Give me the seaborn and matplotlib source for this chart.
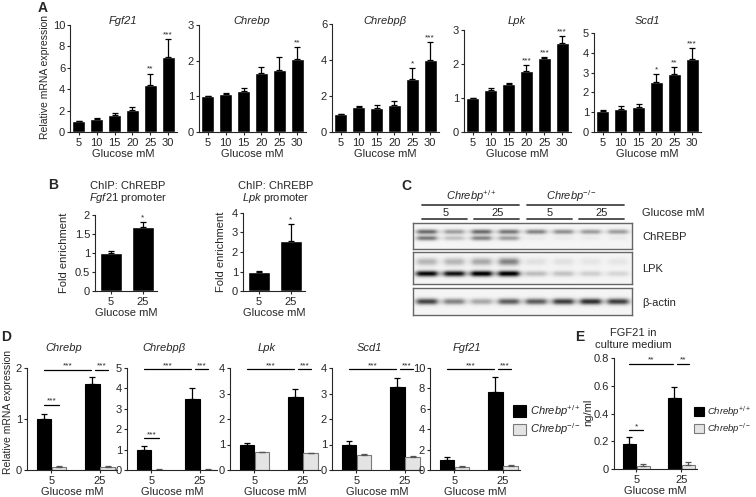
import numpy as np
import pandas as pd
import matplotlib
matplotlib.use('Agg')
import matplotlib.pyplot as plt
from matplotlib.patches import Patch
import seaborn as sns

sns.set_style("ticks")
plt.rcParams['font.family'] = ['Liberation Sans', 'DejaVu Sans']
plt.rcParams['mathtext.fontset'] = 'custom'
plt.rcParams['mathtext.rm'] = 'Liberation Sans'
plt.rcParams['mathtext.it'] = 'Liberation Sans:italic'
plt.rcParams['font.size'] = 8
plt.rcParams['axes.linewidth'] = 0.8
plt.rcParams['xtick.major.size'] = 2.5
plt.rcParams['ytick.major.size'] = 2.5
plt.rcParams['xtick.major.width'] = 0.8
plt.rcParams['ytick.major.width'] = 0.8
plt.rcParams['xtick.major.pad'] = 1.5
plt.rcParams['ytick.major.pad'] = 1.0

W, H = 756, 497

# ---- Panel A: glucose dose response (mean, SEM, significance) ----
glucose_a = ['5', '10', '15', '20', '25', '30']
fgf21_a = [1.0, 1.24, 1.55, 2.1, 4.43, 6.97]
fgf21_a_err = [0.0, 0.1, 0.2, 0.25, 1.0, 1.7]
fgf21_a_sig = ['', '', '', '', '**', '***']
chrebp_a = [1.0, 1.06, 1.15, 1.65, 1.73, 2.05]
chrebp_a_err = [0.0, 0.02, 0.07, 0.17, 0.37, 0.33]
chrebp_a_sig = ['', '', '', '', '', '**']
chrebpb_a = [1.0, 1.37, 1.35, 1.5, 2.95, 4.0]
chrebpb_a_err = [0.0, 0.1, 0.15, 0.23, 0.6, 1.0]
chrebpb_a_sig = ['', '', '', '', '*', '***']
lpk_a = [1.0, 1.24, 1.4, 1.78, 2.17, 2.62]
lpk_a_err = [0.0, 0.04, 0.04, 0.18, 0.03, 0.2]
lpk_a_sig = ['', '', '', '***', '***', '***']
scd1_a = [1.07, 1.15, 1.27, 2.55, 2.92, 3.7]
scd1_a_err = [0.04, 0.18, 0.16, 0.37, 0.36, 0.53]
scd1_a_sig = ['', '', '', '*', '**', '***']

# ---- Panel B: ChIP fold enrichment ----
glucose_b = ['5', '25']
chip_fgf21 = [1.0, 1.68]
chip_fgf21_err = [0.05, 0.13]
chip_lpk = [1.0, 2.55]
chip_lpk_err = [0.03, 0.9]

# ---- Panel C: western blot band intensities (8 lanes) ----
chrebp_upper = [0.55, 0.35, 0.55, 0.5, 0.45, 0.4, 0.35, 0.35]
chrebp_lower = [0.5, 0.2, 0.45, 0.35, 0.04, 0.04, 0.04, 0.04]
lpk_main = [0.95, 0.9, 1.0, 1.0, 0.22, 0.2, 0.15, 0.12]
lpk_upper = [0.25, 0.25, 0.3, 0.45, 0.08, 0.08, 0.06, 0.06]
actin_band = [0.7, 0.45, 0.3, 0.6, 0.6, 0.72, 0.78, 0.72]

# ---- Panel D: wild type vs knockout (5, 25 mM) ----
glucose_d = ['5', '25']
chrebp_wt = [1.0, 1.68]
chrebp_wt_err = [0.1, 0.15]
chrebp_ko = [0.06, 0.06]
chrebp_ko_err = [0.01, 0.01]
chrebpb_wt = [1.0, 3.5]
chrebpb_wt_err = [0.2, 0.5]
chrebpb_ko = [0.02, 0.02]
chrebpb_ko_err = [0.01, 0.01]
lpk_wt = [1.0, 2.87]
lpk_wt_err = [0.07, 0.32]
lpk_ko = [0.7, 0.65]
lpk_ko_err = [0.02, 0.02]
scd1_wt = [1.0, 3.27]
scd1_wt_err = [0.12, 0.32]
scd1_ko = [0.58, 0.5]
scd1_ko_err = [0.04, 0.04]
fgf21_wt = [1.0, 7.6]
fgf21_wt_err = [0.3, 1.55]
fgf21_ko = [0.3, 0.38]
fgf21_ko_err = [0.05, 0.1]

# ---- Panel E: FGF21 in medium ----
medium_wt = [0.18, 0.51]
medium_wt_err = [0.05, 0.08]
medium_ko = [0.02, 0.03]
medium_ko_err = [0.015, 0.02]

WT_COLOR = 'black'
KO_COLOR = '#e4e4e4'
KO_EDGE = '#7a7a7a'

fig = plt.figure(figsize=(W / 100, H / 100), dpi=100)


def add_ax(left, top, right, bottom):
    return fig.add_axes([left / W, 1 - bottom / H, (right - left) / W, (bottom - top) / H])


def ftext(x, y, s, **kw):
    fig.text(x / W, 1 - y / H, s, **kw)


def sig_bar(ax, x0, x1, y, label):
    ax.plot([x0, x1], [y, y], color='black', lw=0.9, clip_on=False)
    ax.text((x0 + x1) / 2, y, label, ha='center', va='bottom', fontsize=6, clip_on=False)


def tick_labels(ticks):
    return ['0' if t == 0 else ('%g' % t if float(t).is_integer() else '%.1f' % t) for t in ticks]


# ================= Panel A =================
a_panels = [
    ('Fgf21', fgf21_a, fgf21_a_err, fgf21_a_sig, [0, 2, 4, 6, 8, 10], (70, 25)),
    ('Chrebp', chrebp_a, chrebp_a_err, chrebp_a_sig, [0, 1, 2, 3], (199, 25)),
    ('Chrebp\u03b2', chrebpb_a, chrebpb_a_err, chrebpb_a_sig, [0, 2, 4, 6], (332, 24)),
    ('Lpk', lpk_a, lpk_a_err, lpk_a_sig, [0, 1, 2, 3], (464, 30)),
    ('Scd1', scd1_a, scd1_a_err, scd1_a_sig, [0, 1, 2, 3, 4, 5], (594, 33)),
]
for i, (gene, vals, err, sig, ticks, (left, top)) in enumerate(a_panels):
    ax = add_ax(left, top, left + 107, 132)
    sns.barplot(x=glucose_a, y=vals, color='black', width=0.72, errorbar=None,
                saturation=1, ax=ax)
    ax.errorbar(np.arange(6), vals, yerr=[np.zeros(6), err], fmt='none', ecolor='black',
                elinewidth=0.9, capsize=2.2, capthick=0.9)
    ymax = ticks[-1]
    for j, s in enumerate(sig):
        if s:
            ax.text(j, vals[j] + err[j] + ymax * 0.01, s, ha='center', va='bottom', fontsize=6)
    ax.set_xlim(-0.5, 5.5)
    ax.set_ylim(0, ymax)
    ax.set_yticks(ticks)
    ax.set_xlabel('Glucose mM', labelpad=1)
    ax.set_ylabel('')
    sns.despine(ax=ax)
    ftext(left + 53, 21, gene, ha='center', va='center', style='italic')

ftext(45, 77, 'Relative mRNA expression', rotation=90, ha='center', va='center', fontsize=7.5)
ftext(43, 8, 'A', fontsize=10, fontweight='bold', ha='center', va='center')

# ================= Panel B =================
b_panels = [
    ('Fgf21', chip_fgf21, chip_fgf21_err, [0, 0.5, 1.0, 1.5, 2.0], (95, 215)),
    ('Lpk', chip_lpk, chip_lpk_err, [0, 1, 2, 3, 4], (243, 213)),
]
for gene, vals, err, ticks, (left, top) in b_panels:
    ax = add_ax(left, top, left + 62, 291)
    sns.barplot(x=glucose_b, y=vals, color='black', width=0.68, errorbar=None,
                saturation=1, ax=ax)
    ax.errorbar(np.arange(2), vals, yerr=[np.zeros(2), err], fmt='none', ecolor='black',
                elinewidth=0.9, capsize=2.5, capthick=0.9)
    ax.text(1, vals[1] + err[1] + ticks[-1] * 0.01, '*', ha='center', va='bottom', fontsize=6)
    ax.set_xlim(-0.5, 1.45)
    ax.set_ylim(0, ticks[-1])
    ax.set_yticks(ticks)
    ax.set_yticklabels(tick_labels(ticks))
    ax.set_xlabel('Glucose mM', labelpad=1)
    ax.set_ylabel('Fold enrichment')
    sns.despine(ax=ax)
    cx = left + 31
    ftext(cx + 2, 186, 'ChIP: ChREBP', ha='center', va='center')
    ftext(cx + 2, 198, r'$\mathit{%s}$ promoter' % gene, ha='center', va='center')

ftext(53, 185, 'B', fontsize=10, fontweight='bold', ha='center', va='center')

# ================= Panel C (blot) =================
ftext(406, 186, 'C', fontsize=10, fontweight='bold', ha='center', va='center')


def draw_blot(top, bottom, bands):
    ax = add_ax(413, top, 632, bottom)
    xs = np.linspace(0, 8, 400)
    ys = np.linspace(0, 1, 60)
    X, Y = np.meshgrid(xs, ys)
    img = np.full(X.shape, 0.04)
    for yc, sigma, halfw, levels in bands:
        for lane, level in enumerate(levels):
            c = lane + 0.5
            horiz = 1.0 / (1.0 + ((X - c) / halfw) ** 6)
            vert = np.exp(-((Y - yc) / sigma) ** 2)
            img += level * horiz * vert
    ax.imshow(np.clip(img, 0, 1), cmap='gray_r', vmin=0, vmax=1, extent=(0, 8, 1, 0),
              aspect='auto', interpolation='bilinear')
    ax.set_xticks([])
    ax.set_yticks([])
    for sp in ax.spines.values():
        sp.set_color('#666666')
        sp.set_linewidth(1.0)


draw_blot(223, 249, [(0.36, 0.09, 0.36, chrebp_upper), (0.6, 0.09, 0.36, chrebp_lower)])
draw_blot(252, 284, [(0.68, 0.09, 0.38, lpk_main), (0.3, 0.12, 0.36, lpk_upper)])
draw_blot(288, 315, [(0.52, 0.11, 0.38, actin_band)])

line_ax = add_ax(413, 190, 632, 222)
line_ax.set_xlim(413, 632)
line_ax.set_ylim(222, 190)
line_ax.axis('off')
for x0, x1 in [(422, 519), (527, 624)]:
    line_ax.plot([x0, x1], [205, 205], color='#444444', lw=1.3)
for x0, x1 in [(422, 467), (474, 519), (527, 572), (579, 624)]:
    line_ax.plot([x0, x1], [219, 219], color='#444444', lw=1.3)
ftext(472, 196, r'$\mathit{Chrebp}^{+/+}$', ha='center', va='center')
ftext(572, 196, r'$\mathit{Chrebp}^{-/-}$', ha='center', va='center')
for x, s in [(446, '5'), (498, '25'), (550, '5'), (602, '25')]:
    ftext(x, 213, s, ha='center', va='center')
ftext(642, 213, 'Glucose mM', ha='left', va='center')
ftext(642, 237, 'ChREBP', ha='left', va='center')
ftext(642, 269, 'LPK', ha='left', va='center')
ftext(642, 303, '\u03b2-actin', ha='left', va='center')


# ================= Panels D and E =================
def ko_panel(ax, wt, wt_err, ko, ko_err, ticks, top_y, low_y=None, low_label='***',
             top_label='***'):
    df = pd.DataFrame({'glucose': glucose_d * 2,
                       'genotype': ['wt', 'wt', 'ko', 'ko'],
                       'value': list(wt) + list(ko)})
    sns.barplot(data=df, x='glucose', y='value', hue='genotype', order=glucose_d,
                hue_order=['wt', 'ko'], palette={'wt': WT_COLOR, 'ko': KO_COLOR},
                width=0.62, gap=0.06, errorbar=None, saturation=1, legend=False, ax=ax)
    centers = []
    for cont, vals, errs, ec in zip(ax.containers, [wt, ko], [wt_err, ko_err],
                                    ['black', KO_EDGE]):
        xs = [b.get_x() + b.get_width() / 2 for b in cont]
        for b in cont:
            b.set_edgecolor(ec)
            b.set_linewidth(0.8)
        ax.errorbar(xs, vals, yerr=[np.zeros(2), errs], fmt='none',
                    ecolor='black' if ec == 'black' else '#555555',
                    elinewidth=0.9, capsize=2.2, capthick=0.9)
        centers.append(xs)
    wt_x, ko_x = centers
    ax.set_xlim(-0.5, 1.35)
    ax.set_ylim(0, ticks[-1])
    ax.set_yticks(ticks)
    ax.set_yticklabels(tick_labels(ticks))
    ax.set_xlabel('Glucose mM', labelpad=1)
    ax.set_ylabel('')
    sns.despine(ax=ax)
    sig_bar(ax, wt_x[0], wt_x[1] - 0.02, top_y, top_label)
    sig_bar(ax, wt_x[1] + 0.05, ko_x[1] + 0.01, top_y, top_label)
    if low_y is not None:
        sig_bar(ax, wt_x[0], ko_x[0], low_y, low_label)


d_panels = [
    ('Chrebp', chrebp_wt, chrebp_wt_err, chrebp_ko, chrebp_ko_err, [0, 1, 2], 27, 1.97, 1.28),
    ('Chrebp\u03b2', chrebpb_wt, chrebpb_wt_err, chrebpb_ko, chrebpb_ko_err,
     [0, 1, 2, 3, 4, 5], 127, 4.93, 1.55),
    ('Lpk', lpk_wt, lpk_wt_err, lpk_ko, lpk_ko_err, [0, 1, 2, 3, 4], 230, 3.95, None),
    ('Scd1', scd1_wt, scd1_wt_err, scd1_ko, scd1_ko_err, [0, 1, 2, 3, 4], 332, 3.95, None),
    ('Fgf21', fgf21_wt, fgf21_wt_err, fgf21_ko, fgf21_ko_err, [0, 2, 4, 6, 8, 10], 430, 9.9, None),
]
for gene, wt, wt_err, ko, ko_err, ticks, left, top_y, low_y in d_panels:
    ax = add_ax(left, 368, left + 90, 470)
    ko_panel(ax, wt, wt_err, ko, ko_err, ticks, top_y, low_y)
    ftext(left + 37, 348, gene, ha='center', va='center', style='italic')

ftext(6, 337, 'D', fontsize=10, fontweight='bold', ha='center', va='center')
ftext(8, 412, 'Relative mRNA expression', rotation=90, ha='center', va='center', fontsize=7.5)

ax_e = add_ax(614, 358, 697, 469)
ko_panel(ax_e, medium_wt, medium_wt_err, medium_ko, medium_ko_err,
         [0, 0.2, 0.4, 0.6, 0.8], 0.76, 0.28, low_label='*', top_label='**')
ftext(588, 412, 'ng/ml', rotation=90, ha='center', va='center')
ftext(580, 337, 'E', fontsize=10, fontweight='bold', ha='center', va='center')
ftext(633, 333, 'FGF21 in', ha='center', va='center')
ftext(633, 345, 'culture medium', ha='center', va='center')

legend_handles = [Patch(facecolor=WT_COLOR, edgecolor='black', lw=0.8),
                  Patch(facecolor=KO_COLOR, edgecolor=KO_EDGE, lw=0.8)]
legend_labels = [r'$\mathit{Chrebp}^{+/+}$', r'$\mathit{Chrebp}^{-/-}$']
for x0, fs, hl in [(513, 8, 1.2), (694, 6.8, 1.1)]:
    fig.legend(legend_handles, legend_labels, loc='center left',
               bbox_to_anchor=(x0 / W, 1 - 420 / H), frameon=False, fontsize=fs,
               handlelength=hl, handleheight=1.2, handletextpad=0.3, labelspacing=0.25,
               borderaxespad=0, borderpad=0)

fig.savefig('out.png', dpi=100)
